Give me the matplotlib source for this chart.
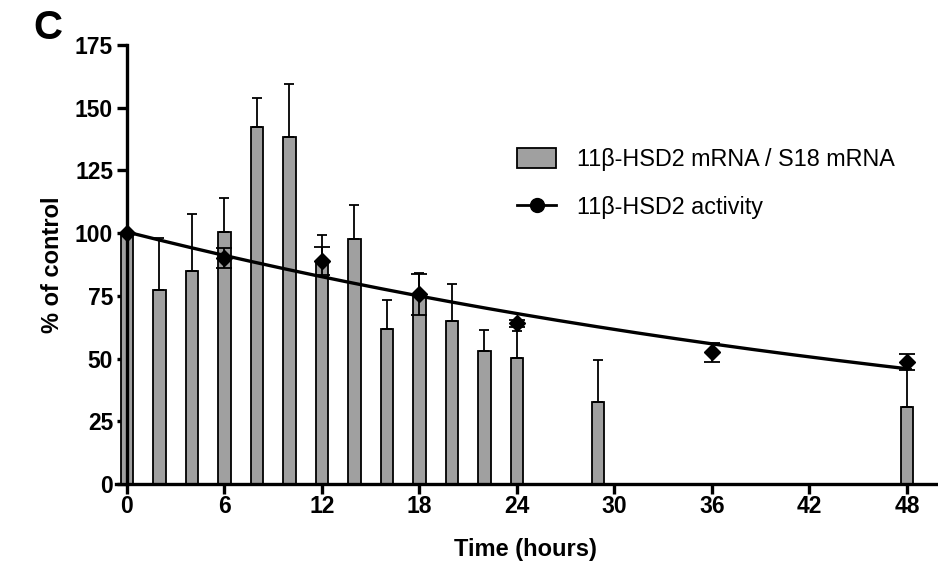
import numpy as np
import matplotlib
matplotlib.use("Agg")
import matplotlib.pyplot as plt
from matplotlib.patches import Patch
from matplotlib.lines import Line2D

plt.rcParams['font.family'] = ['Liberation Sans', 'DejaVu Sans']

# mRNA data (bars)
bar_times = [0, 2, 4, 6, 8, 10, 12, 14, 16, 18, 20, 22, 24, 29, 48]
mrna = [100, 77.5, 85, 100.3, 142.2, 138.4, 88.5, 97.6, 61.8, 75, 65, 53.2, 50.4, 32.6, 30.8]
mrna_err = [0, 20.6, 22.7, 13.7, 11.5, 21, 10.8, 13.8, 11.6, 9, 14.7, 8.1, 10.6, 16.7, 15]

# enzyme activity (points)
act_times = [0, 6, 12, 18, 24, 36, 48]
activity = [100, 90, 88.8, 75.7, 64, 52.5, 48.6]
act_err = [0, 3.9, 5.5, 8.2, 1.5, 3.7, 3.1]

fig = plt.figure(figsize=(9.38, 5.62), dpi=100)
ax = fig.add_axes([0.1232, 0.1388, 0.8748, 0.7812])

# bars
ax.bar(bar_times, mrna, width=0.75, color='#a0a0a0', edgecolor='black', linewidth=1.3, zorder=2)
ax.errorbar(bar_times, mrna, yerr=[np.zeros(len(mrna_err)), mrna_err], fmt='none',
            ecolor='black', elinewidth=1.3, capsize=3.5, capthick=1.3, zorder=2)

# exponential fit of activity
slope, icpt = np.polyfit(act_times, np.log(activity), 1)
tt = np.linspace(0, 48, 200)
ax.plot(tt, np.exp(icpt) * np.exp(slope * tt), color='black', lw=2.4, zorder=3)

ax.errorbar(act_times, activity, yerr=act_err, fmt='D', color='black', ms=8,
            elinewidth=1.3, capsize=5.5, capthick=1.3, zorder=4)

ax.set_xlim(-0.7, 49.8)
ax.set_ylim(0, 175)
ax.spines['left'].set_position(('data', 0))
ax.spines['top'].set_visible(False)
ax.spines['right'].set_visible(False)
for s in ['left', 'bottom']:
    ax.spines[s].set_linewidth(2.4)
ax.set_xticks(range(0, 49, 6))
ax.set_yticks(range(0, 176, 25))
ax.tick_params(width=2.4, length=7, labelsize=16.5, pad=3)
ax.tick_params(axis='x', pad=1)
for lab in ax.get_xticklabels() + ax.get_yticklabels():
    lab.set_fontweight('bold')

ax.set_xlabel('Time (hours)', fontsize=17, fontweight='bold', labelpad=14)
ax.set_ylabel('% of control', fontsize=17, fontweight='bold', labelpad=8)
fig.text(0.036, 0.93, 'C', fontsize=29, fontweight='bold')

handles = [Patch(facecolor='#a0a0a0', edgecolor='black', linewidth=1.3),
           Line2D([0], [0], color='black', lw=2, marker='o', ms=10)]
labels = ['11\u03b2-HSD2 mRNA / S18 mRNA', '11\u03b2-HSD2 activity']
ax.legend(handles, labels, loc='upper left', bbox_to_anchor=(0.489, 0.765), frameon=False,
          fontsize=16.8, handlelength=1.7, handleheight=0.9, handletextpad=0.86,
          labelspacing=1.05, borderpad=0, borderaxespad=0)

fig.savefig('out.png', dpi=100)
